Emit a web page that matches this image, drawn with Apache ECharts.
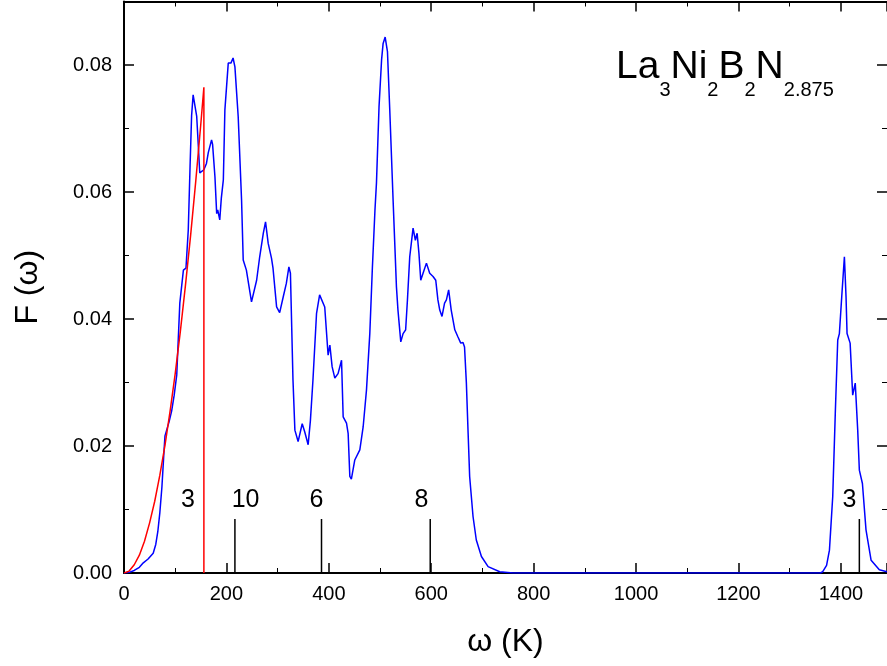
<!DOCTYPE html>
<html>
<head>
<meta charset="utf-8">
<script src="https://cdn.jsdelivr.net/npm/echarts@6/dist/echarts.min.js"></script>
<style>
html,body{margin:0;padding:0;background:#fff;}
#chart{width:887px;height:666px;}
</style>
</head>
<body>
<div id="chart"></div>
<script>
// ---- data ----
// phonon density of states F(omega), omega in K
const blueOmega = [0,10,20,30,37.7,47,57,62,66,70,74,78,80,83,88,93,98,103,109,116,121,125.5,129,132,135,142,148,151.6,156,161,164.6,167,171,173,177.6,181,183,187,190,194,197,203.6,206,208.8,213,216.6,223,229.6,232.8,239,249,252,259,265,272,276.4,281.6,288,291,298,304,311,317,322,325,330,333.7,340,348,353,359.6,364,369,376,382,384.4,392,398.6,402,406.4,411.7,418,424.8,428,434.5,437.7,441,444,450.7,460.5,467,473.5,480,485,490,493,498,503,506,510,514.5,519,525.5,532,535,540.5,545,550,553.5,558,564.5,569,572.4,576,579.5,584,590.6,597,603.5,608.8,613,616.6,621,626,629.6,634,639,646,652,657.6,662,665,668.6,672,675,681.6,688,698,711,733.7,760,1360,1364.5,1372,1377.6,1384,1389,1393.8,1397,1401.6,1406.8,1410,1412,1418,1423,1428,1432.8,1436,1442,1449,1459,1475,1490];
const blueF = [0,0.0001,0.0004,0.0009,0.0016,0.0022,0.0031,0.0045,0.0065,0.0095,0.0135,0.019,0.0216,0.0216,0.0238,0.0255,0.028,0.0312,0.0425,0.0477,0.048,0.054,0.064,0.072,0.0753,0.0719,0.063,0.0627,0.0635,0.0645,0.0662,0.0663,0.0682,0.0675,0.0624,0.0566,0.0572,0.0556,0.059,0.0619,0.0729,0.0803,0.08,0.0803,0.0811,0.0797,0.0719,0.0587,0.0493,0.0477,0.0427,0.0428,0.0461,0.0498,0.0535,0.0553,0.0519,0.0496,0.048,0.0419,0.041,0.0435,0.0456,0.0482,0.0472,0.0304,0.0225,0.0207,0.0235,0.0222,0.0202,0.024,0.0304,0.0409,0.0438,0.044,0.0419,0.0343,0.0359,0.0325,0.0307,0.0314,0.0335,0.0246,0.0236,0.022,0.0152,0.0148,0.0178,0.0194,0.023,0.0288,0.0377,0.048,0.057,0.0614,0.0734,0.0808,0.0834,0.0844,0.0821,0.0729,0.0587,0.0451,0.0414,0.0364,0.0377,0.0383,0.043,0.0498,0.0543,0.0524,0.0535,0.0503,0.0461,0.0472,0.0488,0.0472,0.0467,0.0461,0.043,0.0414,0.0404,0.0425,0.043,0.0446,0.0414,0.0383,0.0372,0.0362,0.0363,0.0356,0.0299,0.022,0.0152,0.0089,0.0052,0.0026,0.001,0.0002,0,0,0.0002,0.0012,0.0036,0.012,0.0251,0.0367,0.0377,0.0435,0.0498,0.0435,0.0377,0.0362,0.028,0.0299,0.0225,0.0162,0.0141,0.0068,0.002,0.0005,0.0002];

// Debye-like low-frequency fit (red)
const redOmega = [0,10,20,30,40,50,60,70,80,90,100,110,120,130,140,150,156,156];
const redF = [0,0.0003,0.0013,0.0028,0.005,0.0079,0.0113,0.0154,0.0201,0.0255,0.0314,0.038,0.0453,0.0531,0.0616,0.0707,0.0765,0];

// mode markers (vertical black bars) and their degeneracy labels
const modeOmega = [216.6, 385.7, 598, 1436];
const modeHeight = 0.0085;
const labelOmega = [124.9, 237.5, 376, 580.9, 1416.6];
const labelF = 0.0115;
const labelText = ['3', '10', '6', '8', '3'];

const xTicks = [0, 200, 400, 600, 800, 1000, 1200, 1400];
const yTicks = [0, 0.02, 0.04, 0.06, 0.08];

const xMin = 0, xMax = 1490, yMin = 0, yMax = 0.09;

// ---- chart ----
const chart = echarts.init(document.getElementById('chart'), null, {renderer: 'canvas'});
const FONT = '"Liberation Sans", Arial, sans-serif';

const blueData = blueOmega.map((w, i) => [w, blueF[i]]);
const redData = redOmega.map((w, i) => [w, redF[i]]);

const modeSeries = modeOmega.map(w => ({
  type: 'line',
  data: [[w, 0], [w, modeHeight]],
  symbol: 'none',
  lineStyle: {color: '#000', width: 1.5, opacity: 1},
  z: 3,
  silent: true
}));

const axisCommonX = {
  type: 'value', min: xMin, max: xMax, interval: 200,
  axisLine: {show: true, onZero: false, lineStyle: {color: '#000', width: 2}},
  axisTick: {show: true, inside: true, length: 10, lineStyle: {color: '#000', width: 1.5}},
  minorTick: {show: true, splitNumber: 2, length: 5, lineStyle: {color: '#000', width: 1}},
  splitLine: {show: false}
};
const axisCommonY = {
  type: 'value', min: yMin, max: yMax, interval: 0.02,
  axisLine: {show: true, onZero: false, lineStyle: {color: '#000', width: 2}},
  axisTick: {show: true, inside: true, length: 10, lineStyle: {color: '#000', width: 1.5}},
  minorTick: {show: true, splitNumber: 2, length: 5, lineStyle: {color: '#000', width: 1}},
  splitLine: {show: false}
};

chart.setOption({
  animation: false,
  backgroundColor: '#fff',
  grid: {left: 124, right: 0, top: 1.5, bottom: 93, containLabel: false},
  xAxis: [
    Object.assign({}, axisCommonX, {
      position: 'bottom',
      name: 'ω (K)', nameLocation: 'middle', nameGap: 53,
      nameTextStyle: {fontFamily: FONT, fontSize: 32, color: '#000'},
      axisLabel: {show: true, margin: 11, fontFamily: FONT, fontSize: 20, color: '#000',
        showMaxLabel: false,
        formatter: v => (xTicks.indexOf(Math.round(v)) >= 0 && Math.abs(v - Math.round(v)) < 1e-6) ? String(Math.round(v)) : ''}
    }),
    Object.assign({}, axisCommonX, {
      position: 'top',
      axisLabel: {show: false}
    })
  ],
  yAxis: [
    Object.assign({}, axisCommonY, {
      position: 'left',
      name: 'F (ω)', nameLocation: 'middle', nameGap: 80, nameRotate: 90,
      nameTextStyle: {fontFamily: FONT, fontSize: 32, color: '#000'},
      axisLabel: {show: true, margin: 12, fontFamily: FONT, fontSize: 20, color: '#000',
        showMaxLabel: false,
        formatter: v => yTicks.some(t => Math.abs(t - v) < 1e-9) ? v.toFixed(2) : ''}
    }),
    Object.assign({}, axisCommonY, {
      position: 'right',
      axisLine: {show: false, onZero: false},
      axisLabel: {show: false}
    })
  ],
  series: [
    {
      type: 'line', data: blueData, symbol: 'none',
      lineStyle: {color: '#0000ff', width: 1.5}, z: 4, silent: true
    },
    {
      type: 'line', data: redData, symbol: 'none',
      lineStyle: {color: '#ff0000', width: 1.5}, z: 5, silent: true
    },
    ...modeSeries,
    {
      type: 'scatter',
      data: labelOmega.map((w, i) => ({value: [w, labelF], name: labelText[i]})),
      symbolSize: 0,
      itemStyle: {opacity: 1},
      label: {show: true, position: 'inside', formatter: p => p.name,
        fontFamily: FONT, fontSize: 25, color: '#000', opacity: 1},
      silent: true, z: 6
    }
  ],
  graphic: [{
    type: 'text',
    left: 616, top: 48,
    silent: true,
    style: {
      text: '{m|La}{s|3}{m|Ni}{s|2}{m|B}{s|2}{m|N}{s|2.875}',
      fill: '#000',
      rich: {
        m: {fontFamily: FONT, fontSize: 39, lineHeight: 52, verticalAlign: 'top', fill: '#000'},
        s: {fontFamily: FONT, fontSize: 20, lineHeight: 51, verticalAlign: 'bottom', fill: '#000'}
      }
    }
  }]
});
</script>
</body>
</html>
